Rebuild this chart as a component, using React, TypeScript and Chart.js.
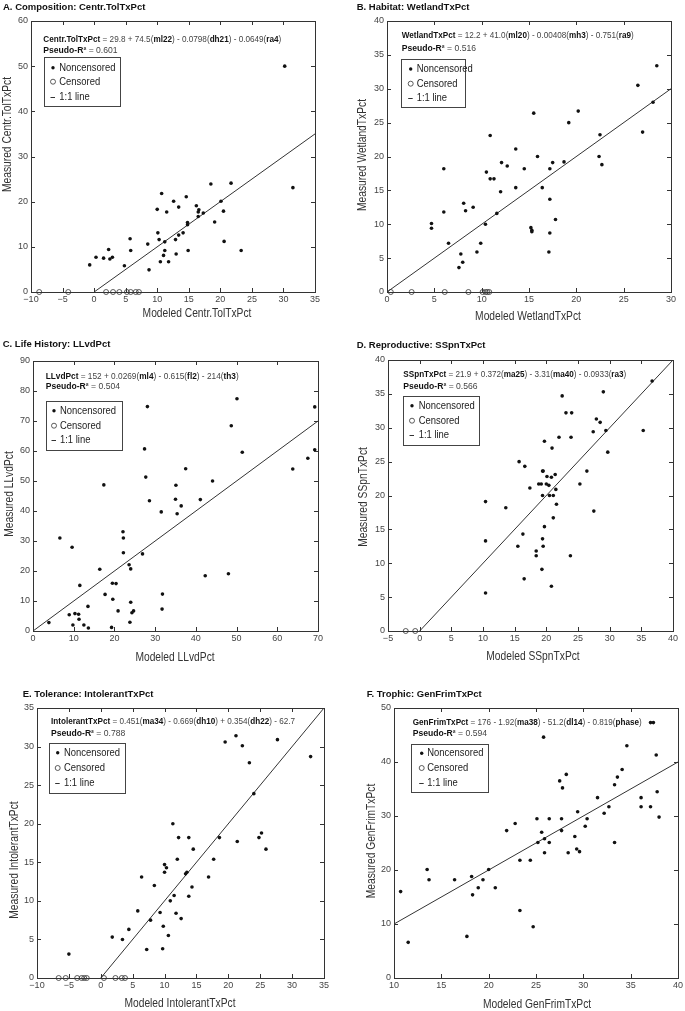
import React, { useEffect, useRef } from 'react';
import { Chart, registerables } from 'chart.js';

Chart.register(...registerables);

// ---------------- DATA ----------------
// Panel A: Centr.TolTxPct
const aNoncensored: [number, number][] = [
  [30.2, 50.0], [31.5, 23.1], [18.5, 23.9], [21.7, 24.1], [10.7, 21.8], [14.6, 21.1], [12.6, 20.1], [20.1, 20.1],
  [10.0, 18.3], [11.5, 17.7], [13.4, 18.8], [16.2, 19.1], [16.6, 18.2], [16.5, 17.7], [16.5, 16.7], [17.3, 17.5],
  [20.5, 17.9], [19.1, 15.5], [14.8, 15.4], [14.8, 14.9], [10.1, 13.1], [14.1, 13.1], [13.4, 12.6], [10.3, 11.6],
  [11.2, 11.1], [12.9, 11.6], [5.7, 11.8], [8.5, 10.6], [2.3, 9.4], [5.8, 9.2], [11.2, 9.2], [14.9, 9.2],
  [20.6, 11.2], [23.3, 9.2], [11.0, 8.1], [13.0, 8.4], [0.3, 7.7], [1.5, 7.5], [2.9, 7.7], [2.5, 7.3],
  [-0.7, 6.0], [4.8, 5.8], [10.5, 6.7], [11.8, 6.7], [8.7, 4.9],
];
const aCensoredX: number[] = [-8.7, -4.1, 1.9, 3.0, 4.0, 5.2, 5.8, 6.6, 7.1];
const aLine: number[] = [0, 35];

// Panel B: WetlandTxPct
const bNoncensored: [number, number][] = [
  [28.5, 33.4], [26.5, 30.5], [28.1, 28.0], [27.0, 23.6], [19.2, 25.0], [20.2, 26.7], [15.5, 26.4], [10.9, 23.1],
  [22.5, 23.2], [13.6, 21.1], [15.9, 20.0], [22.4, 20.0], [12.1, 19.1], [12.7, 18.6], [17.5, 19.1], [18.7, 19.2],
  [22.7, 18.8], [6.0, 18.2], [14.5, 18.2], [17.2, 18.2], [10.5, 17.7], [10.9, 16.7], [11.3, 16.7], [12.0, 14.8],
  [13.6, 15.4], [16.4, 15.4], [17.2, 13.7], [6.0, 11.8], [8.1, 13.1], [8.3, 12.0], [9.1, 12.5], [11.6, 11.6],
  [4.7, 10.1], [4.7, 9.4], [10.4, 10.0], [17.8, 10.7], [15.2, 9.5], [15.3, 9.1], [15.3, 8.9], [17.2, 8.7],
  [6.5, 7.2], [9.9, 7.2], [7.8, 5.6], [9.5, 5.9], [17.1, 5.9], [8.0, 4.4], [7.6, 3.6],
];
const bCensoredX: number[] = [0.4, 2.6, 6.1, 8.6, 10.1, 10.4, 10.6, 10.8];
const bLine: number[] = [0, 30];

// Panel C: LLvdPct
const cNoncensored: [number, number][] = [
  [50.1, 77.4], [69.2, 74.7], [28.1, 74.8], [48.7, 68.4], [27.4, 60.7], [51.4, 59.6], [69.2, 60.4], [67.5, 57.6],
  [63.8, 54.0], [37.5, 54.1], [27.7, 51.3], [17.4, 48.7], [35.1, 48.6], [44.1, 50.0], [41.1, 43.8], [28.6, 43.4],
  [35.0, 43.9], [36.4, 41.7], [31.5, 39.7], [35.4, 39.1], [6.6, 31.0], [22.1, 33.1], [22.2, 31.0], [9.6, 27.9],
  [22.2, 26.1], [26.9, 25.7], [16.4, 20.6], [23.6, 22.1], [24.0, 20.7], [42.3, 18.4], [48.0, 19.1], [11.5, 15.2],
  [19.5, 15.9], [20.4, 15.8], [17.7, 12.2], [31.8, 12.3], [19.6, 10.6], [24.0, 9.6], [13.5, 8.2], [31.7, 7.3],
  [20.9, 6.7], [24.7, 6.7], [24.3, 6.1], [8.9, 5.4], [10.3, 5.8], [11.2, 5.6], [11.3, 3.9], [3.9, 2.8],
  [9.8, 2.0], [12.5, 2.0], [13.6, 1.0], [23.8, 2.9], [19.3, 1.2],
];
const cCensoredX: number[] = [];
const cLine: number[] = [0, 70];

// Panel D: SSpnTxPct
const dNoncensored: [number, number][] = [
  [36.7, 36.9], [29.0, 35.3], [22.5, 34.7], [23.1, 32.2], [24.0, 32.2], [27.9, 31.3], [28.5, 30.8], [27.4, 29.4],
  [29.4, 29.6], [35.3, 29.6], [22.0, 28.6], [23.9, 28.6], [19.7, 28.0], [20.9, 27.0], [29.7, 26.4], [15.7, 25.0],
  [16.6, 24.3], [19.4, 23.6], [19.5, 23.6], [26.4, 23.6], [21.4, 23.1], [20.1, 22.8], [20.8, 22.7], [18.8, 21.7],
  [19.2, 21.7], [20.0, 21.7], [20.4, 21.5], [25.3, 21.7], [17.4, 21.1], [21.5, 20.9], [19.4, 20.0], [20.5, 20.0],
  [21.1, 20.0], [10.4, 19.1], [13.6, 18.2], [21.6, 18.7], [27.5, 17.7], [21.1, 16.7], [19.7, 15.4], [16.3, 14.3],
  [19.4, 13.6], [10.4, 13.3], [15.5, 12.5], [19.5, 12.5], [18.4, 11.8], [18.4, 11.1], [23.8, 11.1], [19.3, 9.1],
  [16.5, 7.7], [20.8, 6.6], [10.4, 5.6],
];
const dCensoredX: number[] = [-2.2, -0.7];
const dLine: number[] = [0, 40];

// Panel E: IntolerantTxPct
const eNoncensored: [number, number][] = [
  [19.5, 30.6], [21.2, 31.4], [22.2, 30.1], [27.7, 30.9], [32.9, 28.7], [23.3, 27.9], [24.0, 23.9], [11.3, 20.0],
  [12.2, 18.2], [13.8, 18.2], [18.6, 18.2], [21.4, 17.7], [25.2, 18.8], [24.8, 18.2], [25.9, 16.7], [14.5, 16.7],
  [12.0, 15.4], [17.7, 15.4], [10.0, 14.7], [10.3, 14.3], [10.0, 13.7], [13.3, 13.5], [13.5, 13.7], [6.4, 13.1],
  [16.9, 13.1], [8.4, 12.0], [14.3, 11.8], [11.5, 10.7], [10.9, 10.0], [13.8, 10.6], [5.8, 8.7], [9.3, 8.5],
  [11.8, 8.4], [7.8, 7.5], [12.6, 7.7], [9.8, 6.7], [4.4, 6.3], [10.6, 5.5], [1.8, 5.3], [3.4, 5.0],
  [-5.0, 3.1], [7.2, 3.7], [9.7, 3.8],
];
const eCensoredX: number[] = [-6.6, -5.5, -3.7, -3.0, -2.6, -2.2, 0.5, 2.3, 3.3, 3.8];
const eLine: number[] = [0, 35];

// Panel F: GenFrimTxPct
const fNoncensored: [number, number][] = [
  [37.1, 47.3], [37.4, 47.3], [25.8, 44.6], [34.6, 43.0], [37.7, 41.3], [34.1, 38.6], [33.6, 37.2], [27.5, 36.5],
  [33.3, 35.8], [28.2, 37.7], [27.8, 35.2], [31.5, 33.4], [36.1, 33.4], [37.8, 34.5], [32.7, 31.7], [36.1, 31.7],
  [37.1, 31.7], [38.0, 29.8], [32.2, 30.5], [29.4, 30.8], [22.8, 28.6], [25.1, 29.5], [26.4, 29.5], [27.7, 29.5],
  [30.4, 29.5], [30.2, 28.1], [21.9, 27.3], [27.7, 27.3], [25.6, 27.0], [29.1, 26.2], [25.9, 25.8], [25.2, 25.1],
  [26.4, 25.1], [33.3, 25.1], [29.3, 23.9], [29.6, 23.4], [25.9, 23.2], [28.4, 23.2], [23.3, 21.8], [24.4, 21.8],
  [13.5, 20.1], [20.0, 20.1], [13.7, 18.2], [16.4, 18.2], [19.4, 18.2], [18.2, 18.8], [10.7, 16.0], [18.9, 16.7],
  [20.7, 16.7], [18.3, 15.4], [23.3, 12.5], [11.5, 6.6], [24.7, 9.5], [17.7, 7.7],
];
const fCensoredX: number[] = [];
const fLine: number[] = [10, 40];

// Axis ranges / tick steps: [min, max, step]
const aXAxis = [-10, 35, 5]; const aYAxis = [0, 60, 10];
const bXAxis = [0, 30, 5]; const bYAxis = [0, 40, 5];
const cXAxis = [0, 70, 10]; const cYAxis = [0, 90, 10];
const dXAxis = [-5, 40, 5]; const dYAxis = [0, 40, 5];
const eXAxis = [-10, 35, 5]; const eYAxis = [0, 35, 5];
const fXAxis = [10, 40, 5]; const fYAxis = [0, 50, 10];

// Texts
const titles = [
  'A. Composition: Centr.TolTxPct',
  'B. Habitat: WetlandTxPct',
  'C. Life History: LLvdPct',
  'D. Reproductive: SSpnTxPct',
  'E. Tolerance: IntolerantTxPct',
  'F. Trophic: GenFrimTxPct',
];
const xTitles = ['Modeled Centr.TolTxPct', 'Modeled WetlandTxPct', 'Modeled LLvdPct', 'Modeled SSpnTxPct', 'Modeled IntolerantTxPct', 'Modeled GenFrimTxPct'];
const yTitles = ['Measured Centr.TolTxPct', 'Measured WetlandTxPct', 'Measured LLvdPct', 'Measured SSpnTxPct', 'Measured IntolerantTxPct', 'Measured GenFrimTxPct'];
type Seg = [string, boolean];
const equations: Seg[][] = [
  [['Centr.TolTxPct', true], [' = 29.8 + 74.5(', false], ['ml22', true], [') - 0.0798(', false], ['dh21', true], [') - 0.0649(', false], ['ra4', true], [')', false]],
  [['WetlandTxPct', true], [' = 12.2 + 41.0(', false], ['ml20', true], [') - 0.00408(', false], ['mh3', true], [') - 0.751(', false], ['ra9', true], [')', false]],
  [['LLvdPct', true], [' = 152 + 0.0269(', false], ['ml4', true], [') - 0.615(', false], ['fl2', true], [') - 214(', false], ['th3', true], [')', false]],
  [['SSpnTxPct', true], [' = 21.9 + 0.372(', false], ['ma25', true], [') - 3.31(', false], ['ma40', true], [') - 0.0933(', false], ['ra3', true], [')', false]],
  [['IntolerantTxPct', true], [' = 0.451(', false], ['ma34', true], [') - 0.669(', false], ['dh10', true], [') + 0.354(', false], ['dh22', true], [') - 62.7', false]],
  [['GenFrimTxPct', true], [' = 176 - 1.92(', false], ['ma38', true], [') - 51.2(', false], ['dl14', true], [') - 0.819(', false], ['phase', true], [')', false]],
];
const pseudoR2 = ['0.601', '0.516', '0.504', '0.566', '0.788', '0.594'];
const legendLabels = ['Noncensored', 'Censored', '1:1 line'];

// ---------------- LAYOUT (page coordinates) ----------------
type Layout = {
  box: { x: number; y: number; w: number; h: number };
  area: { l: number; t: number; r: number; b: number };
  title: [number, number];
  eq: { x: number; y1: number; y2: number; w: number };
  legend: { l: number; t: number; r: number; b: number; ys: number[]; mx: number; tx: number };
  xTitle: [number, number];
  yTitle: [number, number];
};
const layouts: Layout[] = [
  { box: { x: 0, y: 0, w: 340, h: 330 }, area: { l: 31, t: 21, r: 315, b: 292 }, title: [3, 7.5],
    eq: { x: 43.3, y1: 39.3, y2: 50.7, w: 238 }, legend: { l: 44.3, t: 57.3, r: 120, b: 106.7, ys: [67.7, 81.7, 96.7], mx: 53, tx: 59.3 },
    xTitle: [197, 314], yTitle: [7.5, 134.5] },
  { box: { x: 340, y: 0, w: 345, h: 330 }, area: { l: 387, t: 21, r: 671, b: 292 }, title: [356.7, 7.5],
    eq: { x: 401.7, y1: 36, y2: 49, w: 232 }, legend: { l: 401, t: 59.3, r: 465, b: 107.7, ys: [69, 83.7, 98.3], mx: 410.7, tx: 416.7 },
    xTitle: [528, 316.7], yTitle: [362.7, 155] },
  { box: { x: 0, y: 335, w: 340, h: 330 }, area: { l: 33, t: 361, r: 318, b: 631 }, title: [2.7, 344.3],
    eq: { x: 45.7, y1: 376.7, y2: 386.7, w: 193 }, legend: { l: 45.7, t: 401, r: 121.7, b: 450.3, ys: [410.7, 425.7, 440.3], mx: 54, tx: 60 },
    xTitle: [175, 657.7], yTitle: [9.3, 494] },
  { box: { x: 340, y: 335, w: 345, h: 330 }, area: { l: 388, t: 360, r: 673, b: 631 }, title: [356.7, 345],
    eq: { x: 403.3, y1: 374.3, y2: 387, w: 223 }, legend: { l: 403.3, t: 396, r: 479.3, b: 445, ys: [405.7, 420.7, 435], mx: 412, tx: 418.7 },
    xTitle: [533, 656.7], yTitle: [363.3, 497] },
  { box: { x: 0, y: 670, w: 340, h: 341 }, area: { l: 37, t: 708, r: 324, b: 978 }, title: [22.7, 694],
    eq: { x: 51, y1: 721.7, y2: 733.3, w: 244 }, legend: { l: 49.3, t: 742.7, r: 125, b: 792.7, ys: [752.7, 768, 782.7], mx: 57.7, tx: 64 },
    xTitle: [180, 1004], yTitle: [15, 860] },
  { box: { x: 340, y: 670, w: 345, h: 341 }, area: { l: 394, t: 708, r: 680, b: 978 }, title: [366.7, 694],
    eq: { x: 412.7, y1: 722.3, y2: 733.3, w: 229 }, legend: { l: 411, t: 744.3, r: 487.7, b: 792.7, ys: [753.3, 768, 782.7], mx: 421.7, tx: 427.3 },
    xTitle: [537, 1005], yTitle: [371.7, 841] },
];

const panelData = [
  { non: aNoncensored, cen: aCensoredX, line: aLine, xa: aXAxis, ya: aYAxis },
  { non: bNoncensored, cen: bCensoredX, line: bLine, xa: bXAxis, ya: bYAxis },
  { non: cNoncensored, cen: cCensoredX, line: cLine, xa: cXAxis, ya: cYAxis },
  { non: dNoncensored, cen: dCensoredX, line: dLine, xa: dXAxis, ya: dYAxis },
  { non: eNoncensored, cen: eCensoredX, line: eLine, xa: eXAxis, ya: eYAxis },
  { non: fNoncensored, cen: fCensoredX, line: fLine, xa: fXAxis, ya: fYAxis },
];

// ---------------- FONTS ----------------
function hasFont(name: string): boolean {
  const c = document.createElement('canvas').getContext('2d');
  if (!c) return false;
  const s = 'abcdefghijklmnopqrstuvwxyz0123456789ABCDEFGHIJ';
  c.font = '20px monospace';
  const a = c.measureText(s).width;
  c.font = `20px "${name}", monospace`;
  const b = c.measureText(s).width;
  return Math.abs(a - b) > 0.5;
}
const NARROW = typeof document !== 'undefined' && hasFont('Liberation Sans Narrow');
const SANS = '"Liberation Sans", Arial, Helvetica, sans-serif';
const NARROW_FAMILY = NARROW ? '"Liberation Sans Narrow", "Liberation Sans", Arial, sans-serif' : SANS;

function narrowText(ctx: CanvasRenderingContext2D, text: string, x: number, y: number, size: number, color: string, align: CanvasTextAlign, rotate = false) {
  ctx.save();
  ctx.translate(x, y);
  if (rotate) ctx.rotate(-Math.PI / 2);
  if (!NARROW) ctx.scale(0.82, 1);
  ctx.font = `${NARROW ? size : size}px ${NARROW_FAMILY}`;
  ctx.fillStyle = color;
  ctx.textAlign = align;
  ctx.textBaseline = 'middle';
  ctx.fillText(text, 0, 0);
  ctx.restore();
}

function drawSegments(ctx: CanvasRenderingContext2D, segs: Seg[], x: number, y: number, targetW: number | null, size: number) {
  ctx.save();
  ctx.textBaseline = 'middle';
  ctx.textAlign = 'left';
  let total = 0;
  for (const [t, b] of segs) {
    ctx.font = `${b ? 'bold ' : ''}${size}px ${SANS}`;
    total += ctx.measureText(t).width;
  }
  const sx = targetW ? targetW / total : 1;
  ctx.translate(x, y);
  ctx.scale(sx, 1);
  let cx = 0;
  for (const [t, b] of segs) {
    ctx.font = `${b ? 'bold ' : ''}${size}px ${SANS}`;
    ctx.fillStyle = b ? '#111' : '#444';
    ctx.fillText(t, cx, 0);
    cx += ctx.measureText(t).width;
  }
  ctx.restore();
}

function fmtTick(v: number | string) {
  const n = Number(v);
  return n < 0 ? '\u2212' + Math.abs(n) : String(n);
}

function makeDecor(idx: number) {
  const L = layouts[idx];
  const ox = L.box.x;
  const oy = L.box.y;
  return {
    id: 'panelDecor' + idx,
    afterDraw(chart: any) {
      const ctx: CanvasRenderingContext2D = chart.ctx;
      const ca = chart.chartArea;
      const xs = chart.scales.x;
      const ys = chart.scales.y;
      ctx.save();
      // inward ticks on all sides
      ctx.strokeStyle = '#333';
      ctx.lineWidth = 1;
      ctx.beginPath();
      const tl = 4;
      for (const t of xs.ticks) {
        const px = Math.round(xs.getPixelForValue(t.value)) + 0.5;
        ctx.moveTo(px, ca.bottom); ctx.lineTo(px, ca.bottom - tl);
        ctx.moveTo(px, ca.top); ctx.lineTo(px, ca.top + tl);
      }
      for (const t of ys.ticks) {
        const py = Math.round(ys.getPixelForValue(t.value)) + 0.5;
        ctx.moveTo(ca.left, py); ctx.lineTo(ca.left + tl, py);
        ctx.moveTo(ca.right, py); ctx.lineTo(ca.right - tl, py);
      }
      ctx.stroke();
      ctx.strokeRect(Math.round(ca.left) + 0.5, Math.round(ca.top) + 0.5, Math.round(ca.right - ca.left), Math.round(ca.bottom - ca.top));

      // panel title
      ctx.font = `bold 9.5px ${SANS}`;
      ctx.fillStyle = '#111';
      ctx.textBaseline = 'middle';
      ctx.textAlign = 'left';
      ctx.fillText(titles[idx], L.title[0] - ox, L.title[1] - oy);

      // equation + pseudo R2
      drawSegments(ctx, equations[idx], L.eq.x - ox, L.eq.y1 - oy, L.eq.w, 9);
      drawSegments(ctx, [['Pseudo-R\u00B2', true], [' = ' + pseudoR2[idx], false]], L.eq.x - ox, L.eq.y2 - oy, null, 8.6);

      // legend box
      const lg = L.legend;
      ctx.fillStyle = '#fff';
      ctx.fillRect(lg.l - ox, lg.t - oy, lg.r - lg.l, lg.b - lg.t);
      ctx.strokeStyle = '#444';
      ctx.lineWidth = 1;
      ctx.strokeRect(Math.round(lg.l - ox) + 0.5, Math.round(lg.t - oy) + 0.5, Math.round(lg.r - lg.l), Math.round(lg.b - lg.t));
      // markers
      const mx = lg.mx - ox;
      ctx.fillStyle = '#111';
      ctx.beginPath();
      ctx.arc(mx, lg.ys[0] - oy, 1.7, 0, Math.PI * 2);
      ctx.fill();
      ctx.strokeStyle = '#333';
      ctx.lineWidth = 0.8;
      ctx.beginPath();
      ctx.arc(mx, lg.ys[1] - oy, 2.5, 0, Math.PI * 2);
      ctx.stroke();
      ctx.lineWidth = 1;
      ctx.beginPath();
      ctx.moveTo(mx - 2.5, Math.round(lg.ys[2] - oy) + 0.5);
      ctx.lineTo(mx + 2, Math.round(lg.ys[2] - oy) + 0.5);
      ctx.stroke();
      for (let i = 0; i < 3; i++) {
        narrowText(ctx, legendLabels[i], lg.tx - ox, lg.ys[i] - oy, 11.5, '#222', 'left');
      }

      // axis titles
      narrowText(ctx, xTitles[idx], L.xTitle[0] - ox, L.xTitle[1] - oy, 12.5, '#333', 'center');
      narrowText(ctx, yTitles[idx], L.yTitle[0] - ox, L.yTitle[1] - oy, 12.5, '#333', 'center', true);
      ctx.restore();
    },
  };
}

function buildConfig(idx: number): any {
  const L = layouts[idx];
  const D = panelData[idx];
  const tickFont = NARROW ? { family: NARROW_FAMILY, size: 10.5 } : { family: SANS, size: 9 };
  return {
    type: 'scatter',
    data: {
      datasets: [
        {
          label: legendLabels[2],
          type: 'line',
          data: D.line.map((v) => ({ x: v, y: v })),
          borderColor: '#333',
          borderWidth: 1,
          pointRadius: 0,
          fill: false,
          clip: false,
          order: 3,
        },
        {
          label: legendLabels[0],
          data: D.non.map(([x, y]) => ({ x, y })),
          pointRadius: 1.8,
          pointBackgroundColor: '#111',
          pointBorderColor: '#111',
          pointBorderWidth: 0,
          clip: false,
          order: 1,
        },
        {
          label: legendLabels[1],
          data: D.cen.map((x) => ({ x, y: 0 })),
          pointRadius: 2.5,
          pointBackgroundColor: 'rgba(0,0,0,0)',
          pointBorderColor: '#333',
          pointBorderWidth: 0.8,
          clip: false,
          order: 2,
        },
      ],
    },
    options: {
      animation: false,
      responsive: false,
      maintainAspectRatio: false,
      devicePixelRatio: 1,
      layout: {
        padding: { left: 0, bottom: 0, top: L.area.t - L.box.y, right: L.box.x + L.box.w - L.area.r },
      },
      plugins: { legend: { display: false }, tooltip: { enabled: false }, title: { display: false } },
      scales: {
        x: {
          type: 'linear',
          min: D.xa[0],
          max: D.xa[1],
          afterFit: (s: any) => { s.height = L.box.y + L.box.h - L.area.b; },
          ticks: { stepSize: D.xa[2], callback: fmtTick, font: tickFont, color: '#444', padding: 2, maxRotation: 0, autoSkip: false },
          grid: { drawOnChartArea: false, drawTicks: false },
          border: { display: false },
          title: { display: false },
        },
        y: {
          type: 'linear',
          min: D.ya[0],
          max: D.ya[1],
          afterFit: (s: any) => { s.width = L.area.l - L.box.x; },
          ticks: { stepSize: D.ya[2], callback: fmtTick, font: tickFont, color: '#444', padding: 3, autoSkip: false },
          grid: { drawOnChartArea: false, drawTicks: false },
          border: { display: false },
          title: { display: false },
        },
      },
    },
    plugins: [makeDecor(idx)],
  };
}

function Panel({ idx }: { idx: number }) {
  const ref = useRef<HTMLCanvasElement>(null);
  const L = layouts[idx];
  useEffect(() => {
    if (!ref.current) return;
    const chart = new Chart(ref.current, buildConfig(idx));
    return () => chart.destroy();
  }, [idx]);
  return (
    <canvas
      ref={ref}
      width={L.box.w}
      height={L.box.h}
      style={{ position: 'absolute', left: L.box.x, top: L.box.y, width: L.box.w, height: L.box.h }}
    />
  );
}

export default function App() {
  return (
    <div style={{ position: 'absolute', left: 0, top: 0, width: 685, height: 1011, background: '#fff', overflow: 'hidden' }}>
      {layouts.map((_, i) => (
        <Panel key={i} idx={i} />
      ))}
    </div>
  );
}
